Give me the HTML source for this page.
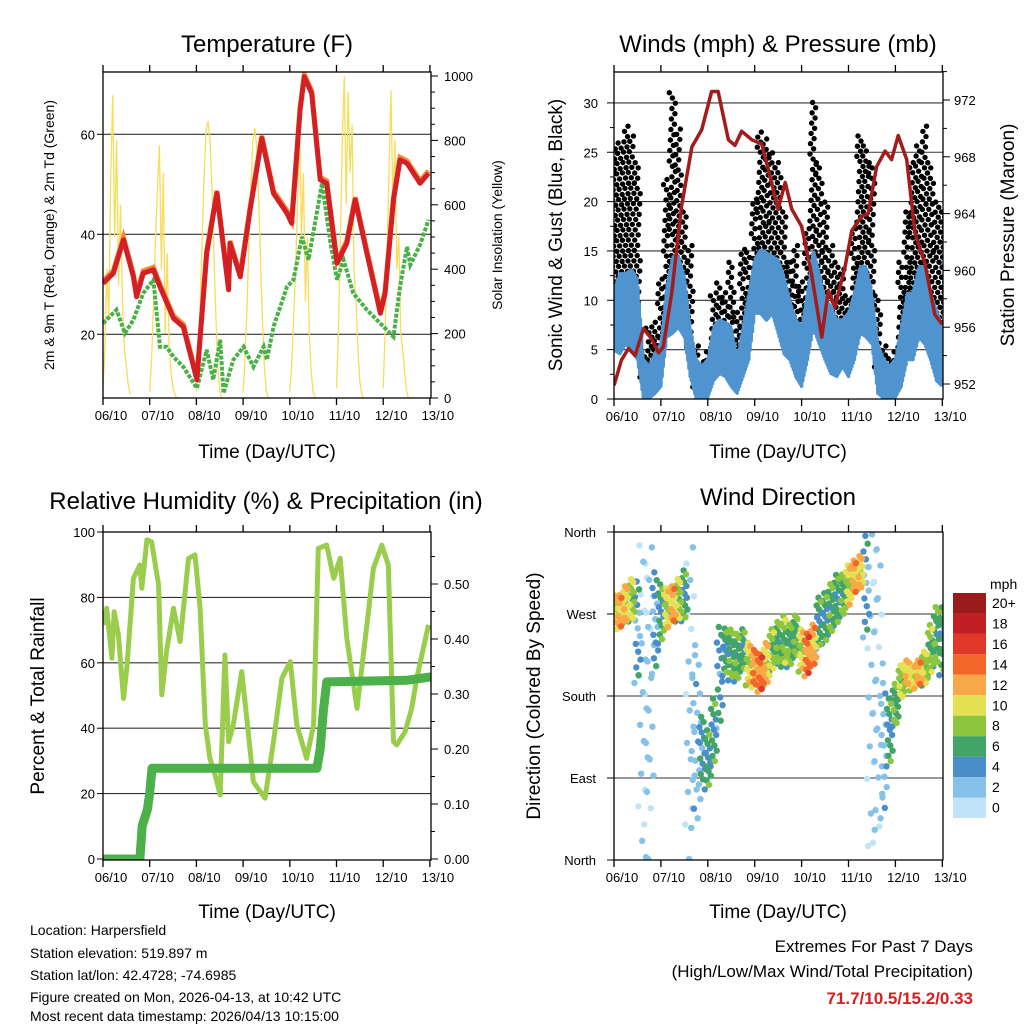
<!DOCTYPE html>
<html><head><meta charset="utf-8"><style>
body{margin:0;background:#fff}
svg{display:block;font-family:"Liberation Sans",sans-serif}
</style></head><body>
<svg id="s" width="1024" height="1024" viewBox="0 0 1024 1024" xmlns="http://www.w3.org/2000/svg">
<defs>
<clipPath id="c1"><rect x="103" y="72" width="328" height="326"/></clipPath>
<clipPath id="c2"><rect x="614" y="72" width="329" height="327"/></clipPath>
<clipPath id="c3"><rect x="103" y="532" width="328" height="328"/></clipPath>
<clipPath id="c4"><rect x="614" y="532" width="329" height="328"/></clipPath>
</defs>
<g font-size="24" text-anchor="middle" fill="#000">
<text x="267" y="52">Temperature (F)</text>
<text x="778" y="52">Winds (mph) &amp; Pressure (mb)</text>
<text x="266" y="509">Relative Humidity (%) &amp; Precipitation (in)</text>
<text x="778" y="505">Wind Direction</text>
</g>
<g font-size="19" text-anchor="middle">
<text x="267" y="458">Time (Day/UTC)</text>
<text x="778" y="458">Time (Day/UTC)</text>
<text x="267" y="918">Time (Day/UTC)</text>
<text x="778" y="918">Time (Day/UTC)</text>
<text transform="translate(54,235) rotate(-90)" font-size="14">2m &amp; 9m T (Red, Orange) &amp; 2m Td (Green)</text>
<text transform="translate(502,235) rotate(-90)" font-size="14">Solar Insolation (Yellow)</text>
<text transform="translate(562,235) rotate(-90)">Sonic Wind &amp; Gust (Blue, Black)</text>
<text transform="translate(1014,235) rotate(-90)">Station Pressure (Maroon)</text>
<text transform="translate(44,696) rotate(-90)">Percent &amp; Total Rainfall</text>
<text transform="translate(540,696) rotate(-90)">Direction (Colored By Speed)</text>
</g>
<g font-size="14">
<text x="30" y="935">Location: Harpersfield</text>
<text x="30" y="958">Station elevation: 519.897 m</text>
<text x="30" y="980">Station lat/lon: 42.4728; -74.6985</text>
<text x="30" y="1002">Figure created on Mon, 2026-04-13, at 10:42 UTC</text>
<text x="30" y="1024" dy="-3">Most recent data timestamp: 2026/04/13 10:15:00</text>
</g>
<g font-size="17" text-anchor="end">
<text x="973" y="952">Extremes For Past 7 Days</text>
<text x="973" y="977">(High/Low/Max Wind/Total Precipitation)</text>
<text x="973" y="1004" fill="#d42020" font-weight="bold">71.7/10.5/15.2/0.33</text>
</g>
<text x="990" y="589" font-size="14">mph</text>
<g id="g"></g>
</svg>
<script>
// ---- Temperature data ----
const tTemp=[0,0.22,0.44,0.65,0.72,0.86,1.08,1.22,1.51,1.72,2.01,2.22,2.44,2.69,2.72,2.94,3.15,3.4,3.65,3.94,4.04,4.22,4.31,4.47,4.65,4.79,5.01,5.22,5.4,5.65,5.94,6.04,6.22,6.36,6.51,6.79,6.97];
const temp=[30.2,32.2,38.9,31.5,27.5,32.2,32.9,29.5,23.2,21.5,10.9,36.2,48.2,28.9,38.2,31.5,44.9,59.2,48.2,44.2,42.2,64.9,71.5,68.2,50.9,50.2,34.2,38.2,46.9,36.2,24.2,28.2,46.9,54.9,54.2,50.2,52.2];
const tDew=[0,0.29,0.47,0.65,0.86,1.08,1.22,1.36,1.51,1.72,2.01,2.22,2.36,2.51,2.58,2.79,3.01,3.22,3.44,3.51,3.65,3.94,4.08,4.26,4.4,4.69,4.86,5.01,5.15,5.36,5.65,6.01,6.22,6.36,6.51,6.58,6.79,6.97];
const dew=[22.2,24.9,20.2,22.9,28.2,30.9,17.5,17.5,15.5,13.5,9.2,16.9,10.9,18.9,8.2,14.9,17.5,13.5,17.5,14.9,21.5,29.5,30.9,39.5,34.9,50.2,38.9,30.9,34.9,28.2,24.9,21.5,19.5,29.5,37.5,33.9,37.9,42.9];
const solarDays=[
[30,150,400,250,700,940,500,800,350,600,300,150,100,40,10],
[20,120,300,500,650,785,400,700,200,450,150,80,30,10,0],
[20,120,300,500,700,830,860,800,650,450,250,100,20,0,0],
[20,120,280,480,650,800,838,780,620,420,230,90,20,0,0],
[20,100,250,400,600,853,500,700,300,500,200,80,20,0,0],
[30,200,500,800,1000,600,950,700,850,400,300,150,50,10,0],
[30,200,450,700,955,600,800,400,500,200,150,80,20,0,0]];
// ---- Wind / pressure data ----
const tPres=[0,0.16,0.31,0.45,0.63,0.8,0.95,1.05,1.23,1.44,1.66,1.87,2.08,2.22,2.44,2.58,2.72,2.94,3.15,3.29,3.5,3.65,3.79,4.0,4.21,4.43,4.57,4.71,4.93,5.07,5.28,5.42,5.6,5.78,5.92,6.06,6.24,6.42,6.63,6.84,7.0];
const pres=[951.9,953.7,954.5,954.0,955.9,955.2,954.2,954.6,958.4,964.5,968.7,969.9,972.6,972.6,969.2,968.8,969.8,969.2,968.9,967.1,964.3,966.2,964.3,963.1,959.8,955.3,958.6,957.4,960.3,962.8,963.8,964.0,967.3,968.4,967.8,969.5,967.8,962.6,960.5,956.9,956.2];
const gustHi=[25.6,26.2,27.9,26.9,24.2,4.9,7.4,8.0,12.4,22.5,31.3,27.6,19.2,15.8,5.6,4.0,5.0,10.7,12.0,11.0,14.1,9.0,15.4,15.1,20.5,27.3,26.6,25.2,24.2,19.2,14.1,15.8,12.1,17.5,30.3,24.2,20.2,15.8,14.1,13.4,10.7,17.5,26.9,25.9,24.2,10.7,5.6,4.3,5.0,14.1,19.2,24.2,25.9,27.9,24.2,20.2,19.2];
const gustLo=[9,9,9,9,8,2,1,1,3,8,10,10,8,5,1,0.5,1,4,4,4,5,2,5,6,10,12,12,11,10,8,6,5,4,7,11,9,7,5,4,4,4,8,11,11,9,3,1,0.5,1,5,8,10,10,10,9,8,7];
const windHi=[11.0,12.7,12.7,13.1,12.1,4.0,3.3,4.6,5.6,11.4,14.4,14.4,12.4,7.3,4.0,3.3,4.0,7.3,8.0,7.7,7.3,4.0,7.3,10.7,14.1,15.1,14.8,14.4,14.1,12.4,10.0,8.0,7.3,10.7,15.1,12.7,10.0,9.4,8.0,8.0,8.7,10.7,13.4,13.4,10.7,5.6,4.0,3.3,4.0,7.3,10.7,10.7,13.4,13.4,10.7,9.0,7.3];
const windLo=[5.0,4.6,5.6,5.0,4.0,0.2,0.1,0.6,1.3,6.3,6.7,7.3,6.3,2.3,0.1,0.1,0.2,1.9,2.6,2.3,1.3,0.6,2.3,4.0,8.7,8.7,8.0,8.7,6.7,4.6,4.0,2.3,1.3,4.0,7.3,5.6,4.0,2.6,2.3,3.3,2.3,4.0,6.7,6.3,5.6,0.6,0.1,0.1,0.2,1.3,4.0,4.0,6.3,5.6,4.0,1.9,1.3];
// ---- Humidity / precipitation ----
const tRH=[0,0.08,0.19,0.24,0.33,0.44,0.51,0.65,0.79,0.83,0.94,1.04,1.19,1.26,1.36,1.51,1.65,1.83,1.97,2.08,2.19,2.29,2.4,2.51,2.61,2.69,2.79,2.97,3.08,3.22,3.47,3.65,3.83,4.01,4.15,4.36,4.51,4.61,4.79,4.94,5.08,5.22,5.44,5.65,5.79,5.97,6.11,6.22,6.29,6.47,6.61,6.72,6.97];
const rh=[71.6,76.7,61.4,75.6,68.5,49.1,58.3,85.8,89.9,82.8,97.6,97,83.8,50.2,63.4,76.7,66.5,91.9,93,76.7,41,30.8,25.7,19.6,62.4,35.9,41,57.3,43,23.6,18.6,35.9,55.3,60.3,41,30.8,41,95,96,85.8,92,67.5,46.1,71.6,88.9,96,89.9,35.9,34.9,38.9,46.1,55.3,71.6];
const tPrecip=[0,0.79,0.84,0.95,1.0,1.05,4.58,4.65,4.72,4.79,6.5,7.0];
const precip=[0,0,0.06,0.09,0.12,0.165,0.165,0.2,0.27,0.322,0.325,0.331];
// ---- Wind direction (per 3-hour step) ----
const dirCenter=[275,272,280,285,250,220,200,260,270,275,280,285,290,200,130,120,110,140,200,228,225,222,230,215,210,205,215,230,238,240,235,245,230,225,235,260,265,275,285,290,300,310,315,300,250,180,120,140,170,195,205,200,205,210,230,245,240];
const dirSpread=[18,20,22,25,60,170,170,60,35,25,22,25,30,170,100,40,35,40,60,28,30,28,25,25,22,22,25,25,25,30,25,25,25,25,25,30,30,30,30,25,25,20,20,60,170,170,80,40,25,20,15,15,15,20,30,35,40];
const dirSpeed=[9,11,10,8,3,1,1,3,5,9,11,8,5,1,2,4,5,5,4,5,6,6,5,9,12,13,10,7,6,7,6,6,9,13,11,5,5,6,5,6,9,11,10,3,1,1,2,5,6,8,10,9,11,8,7,6,5];
const cbLabels=["20+","18","16","14","12","10","8","6","4","2","0"];
const cbColors=["#9b1a1c","#c21f24","#e0392b","#f2662a","#f9a848","#e6e055","#8cc63f","#42a467","#4a8ec9","#86c1ea","#bfe4f8"];

const NS="http://www.w3.org/2000/svg";
const G=document.getElementById('g');
function el(tag,attrs,parent){const e=document.createElementNS(NS,tag);for(const k in attrs)e.setAttribute(k,attrs[k]);(parent||G).appendChild(e);return e;}
function txt(x,y,s,anchor,size,parent){const e=el('text',{x:x,y:y,'text-anchor':anchor,'font-size':size},parent);e.textContent=s;return e;}

const x1=t=>103+46.7*t, yT=v=>334.3-(v-20)*5, yS=w=>398-w*0.322;
const x2=t=>614+46.9*t, yW=v=>399-v*9.87, yP=p=>384-(p-952)*14.2;
const yR=v=>859-v*3.27, yPr=v=>859-v*550;
const yD=d=>860-d*328/360;
const days=["06/10","07/10","08/10","09/10","10/10","11/10","12/10","13/10"];

function frame(x0,y0,w,h,xs,name){
  const g=el('g',{});
  
  
  for(let i=0;i<8;i++){const x=xs(i);
    el('line',{x1:x,x2:x,y1:y0+h,y2:y0+h+7,stroke:'#000','stroke-width':1.3},g);
    el('line',{x1:x,x2:x,y1:y0,y2:y0-7,stroke:'#000','stroke-width':1.3},g);
    const l=txt(x+8,y0+h+22,days[i],'middle',13,g);
    
    
  }
  el('rect',{x:x0,y:y0,width:w,height:h,fill:'none',stroke:'#000','stroke-width':1.3},g);
  return g;
}
function grid(x0,w,ys,g){ys.forEach(y=>el('line',{x1:x0,x2:x0+w,y1:y,y2:y,stroke:'#333','stroke-width':1.1},g));}
function poly(xs,ys,attrs,parent){const p=xs.map((x,i)=>x.toFixed(1)+','+ys[i].toFixed(1)).join(' ');return el('polyline',Object.assign({points:p,fill:'none'},attrs),parent);}

// ===== Panel 1 =====
const p1=el('g',{'clip-path':'url(#c1)'});


grid(103,328,[yT(20),yT(40),yT(60)],p1);
solarDays.forEach((arr,k)=>{
  const xs=arr.map((v,h)=>x1(k+h/24)), ys=arr.map(v=>yS(v));
  const s=poly(xs,ys,{stroke:'#f8dc5a','stroke-width':1.3},p1);
  
  
});
const dl=poly(tDew.map(x1),dew.map(yT),{stroke:'#4cb04a','stroke-width':4,'stroke-dasharray':'4 1.5'},p1);


const ol=poly(tTemp.map(x1),temp.map(v=>yT(v+0.5)),{stroke:'#f58a3a','stroke-width':5},p1);


const rl=poly(tTemp.map(x1),temp.map(yT),{stroke:'#d42024','stroke-width':5,'stroke-linejoin':'round'},p1);


const a1=frame(103,72,328,326,x1,'temperature');
[20,40,60].forEach(v=>{txt(95,yT(v)+5,v,'end',13,a1);el('line',{x1:97,x2:103,y1:yT(v),y2:yT(v),stroke:'#000'},a1);});
for(let w=0;w<=1000;w+=50){el('line',{x1:431,x2:w%200?435:438,y1:yS(w),y2:yS(w),stroke:'#000'},a1);if(w%200===0)txt(444,yS(w)+5,w,'start',13,a1);}

// ===== Panel 2 =====
const p2=el('g',{'clip-path':'url(#c2)'});


grid(614,329,[5,10,15,20,25,30].map(yW),p2);
let gd='';
gustHi.forEach((hi,i)=>{const lo=gustLo[i];const n=Math.round((hi-lo)*1.8)+2;
  for(let k=0;k<n;k++){const v=lo+(hi-lo)*((k+0.5)/n);const dt=(((k*7)%13)/13-0.5)*0.14;
    const x=x2(i/8+dt),y=yW(v);gd+=`M${(x-2.7).toFixed(1)},${y.toFixed(1)}a2.7,2.7 0 1,0 5.4,0a2.7,2.7 0 1,0 -5.4,0`;}});
const gp=el('path',{d:gd,fill:'#000'},p2);


let bx=[],by=[];
windHi.forEach((hi,i)=>{if(i===windHi.length-1)return;const lo=windLo[i],hi2=windHi[i+1],lo2=windLo[i+1];
  for(let k=0;k<10;k++){const f=k/10;const v=k%2?(hi+(hi2-hi)*f):(lo+(lo2-lo)*f);bx.push(x2((i+f)/8));by.push(yW(v));}});
const bl=poly(bx,by,{stroke:'#4f94cf','stroke-width':3.5,'stroke-linejoin':'round'},p2);


const pl=poly(tPres.map(x2),pres.map(yP),{stroke:'#a31c1c','stroke-width':3.5,'stroke-linejoin':'round'},p2);


const a2=frame(614,72,329,327,x2,'winds');
for(let v=0;v<=32;v+=2.5){el('line',{x1:v%5?610:607,x2:614,y1:yW(v),y2:yW(v),stroke:'#000'},a2);if(v%5===0)txt(598,yW(v)+5,v,'end',13,a2);}
for(let p=952;p<=974;p+=2){el('line',{x1:943,x2:p%4?947:950,y1:yP(p),y2:yP(p),stroke:'#000'},a2);if(p%4===0)txt(954,yP(p)+5,p,'start',13,a2);}

// ===== Panel 3 =====
const p3=el('g',{'clip-path':'url(#c3)'});


grid(103,328,[20,40,60,80].map(yR),p3);
const hl=poly(tRH.map(x1),rh.map(yR),{stroke:'#9acd4c','stroke-width':5,'stroke-linejoin':'round'},p3);


const prl=poly(tPrecip.map(x1),precip.map(yPr),{stroke:'#4cb14a','stroke-width':9,'stroke-linejoin':'round','stroke-linecap':'round'},p3);


const a3=frame(103,532,328,328,x1,'humidity');
[0,20,40,60,80,100].forEach(v=>{txt(95,yR(v)+5,v,'end',13,a3);el('line',{x1:97,x2:103,y1:yR(v),y2:yR(v),stroke:'#000'},a3);});
for(let i=0;i<=11;i++){const v=i*0.05;el('line',{x1:431,x2:i%2?435:438,y1:yPr(v),y2:yPr(v),stroke:'#000'},a3);if(i%2===0)txt(444,yPr(v)+5,v.toFixed(2),'start',13,a3);}

// ===== Panel 4 =====
const p4=el('g',{'clip-path':'url(#c4)'});


grid(614,329,[90,180,270].map(yD),p4);
const spdOff=[-2,1,0,2,-1,0,1,-2,2,0,-1,1,0,-1];
function colorFor(s){let idx=Math.min(10,Math.max(0,Math.floor((s+1)/2)));return cbColors[10-idx];}
const pts=[];
dirCenter.forEach((c,i)=>{const s=dirSpread[i];const n=s>80?19:14;
  for(let k=0;k<n;k++){let d=c-s+2*s*(((k*5)%n)+0.5)/n;d=((d%360)+360)%360;
    const dt=(((k*3)%n+0.5)/n-0.5)*(s>80?0.22:0.14);const sp=Math.max(0,dirSpeed[i]+spdOff[k%14]*(dirSpeed[i]>2?1:0.5));
    pts.push([x2(i/8+dt),yD(d),colorFor(sp),sp]);}});
pts.sort((a,b)=>a[3]-b[3]);
pts.forEach(p=>{const c=el('circle',{cx:p[0].toFixed(1),cy:p[1].toFixed(1),r:3.2,fill:p[2]},p4);
  
  });
const a4=frame(614,532,329,328,x2,'wind-direction');
["North","East","South","West","North"].forEach((n,i)=>{const y=yD(i*90);txt(596,y+5,n,'end',13,a4);el('line',{x1:607,x2:614,y1:y,y2:y,stroke:'#000'},a4);});
// colorbar
const cb=el('g',{});


cbColors.forEach((c,i)=>{const y=593+i*20.45;el('rect',{x:953,y:y,width:33,height:20.45,fill:c},cb);txt(992,y+15,cbLabels[i],'start',14,cb);});
</script>
</body></html>
